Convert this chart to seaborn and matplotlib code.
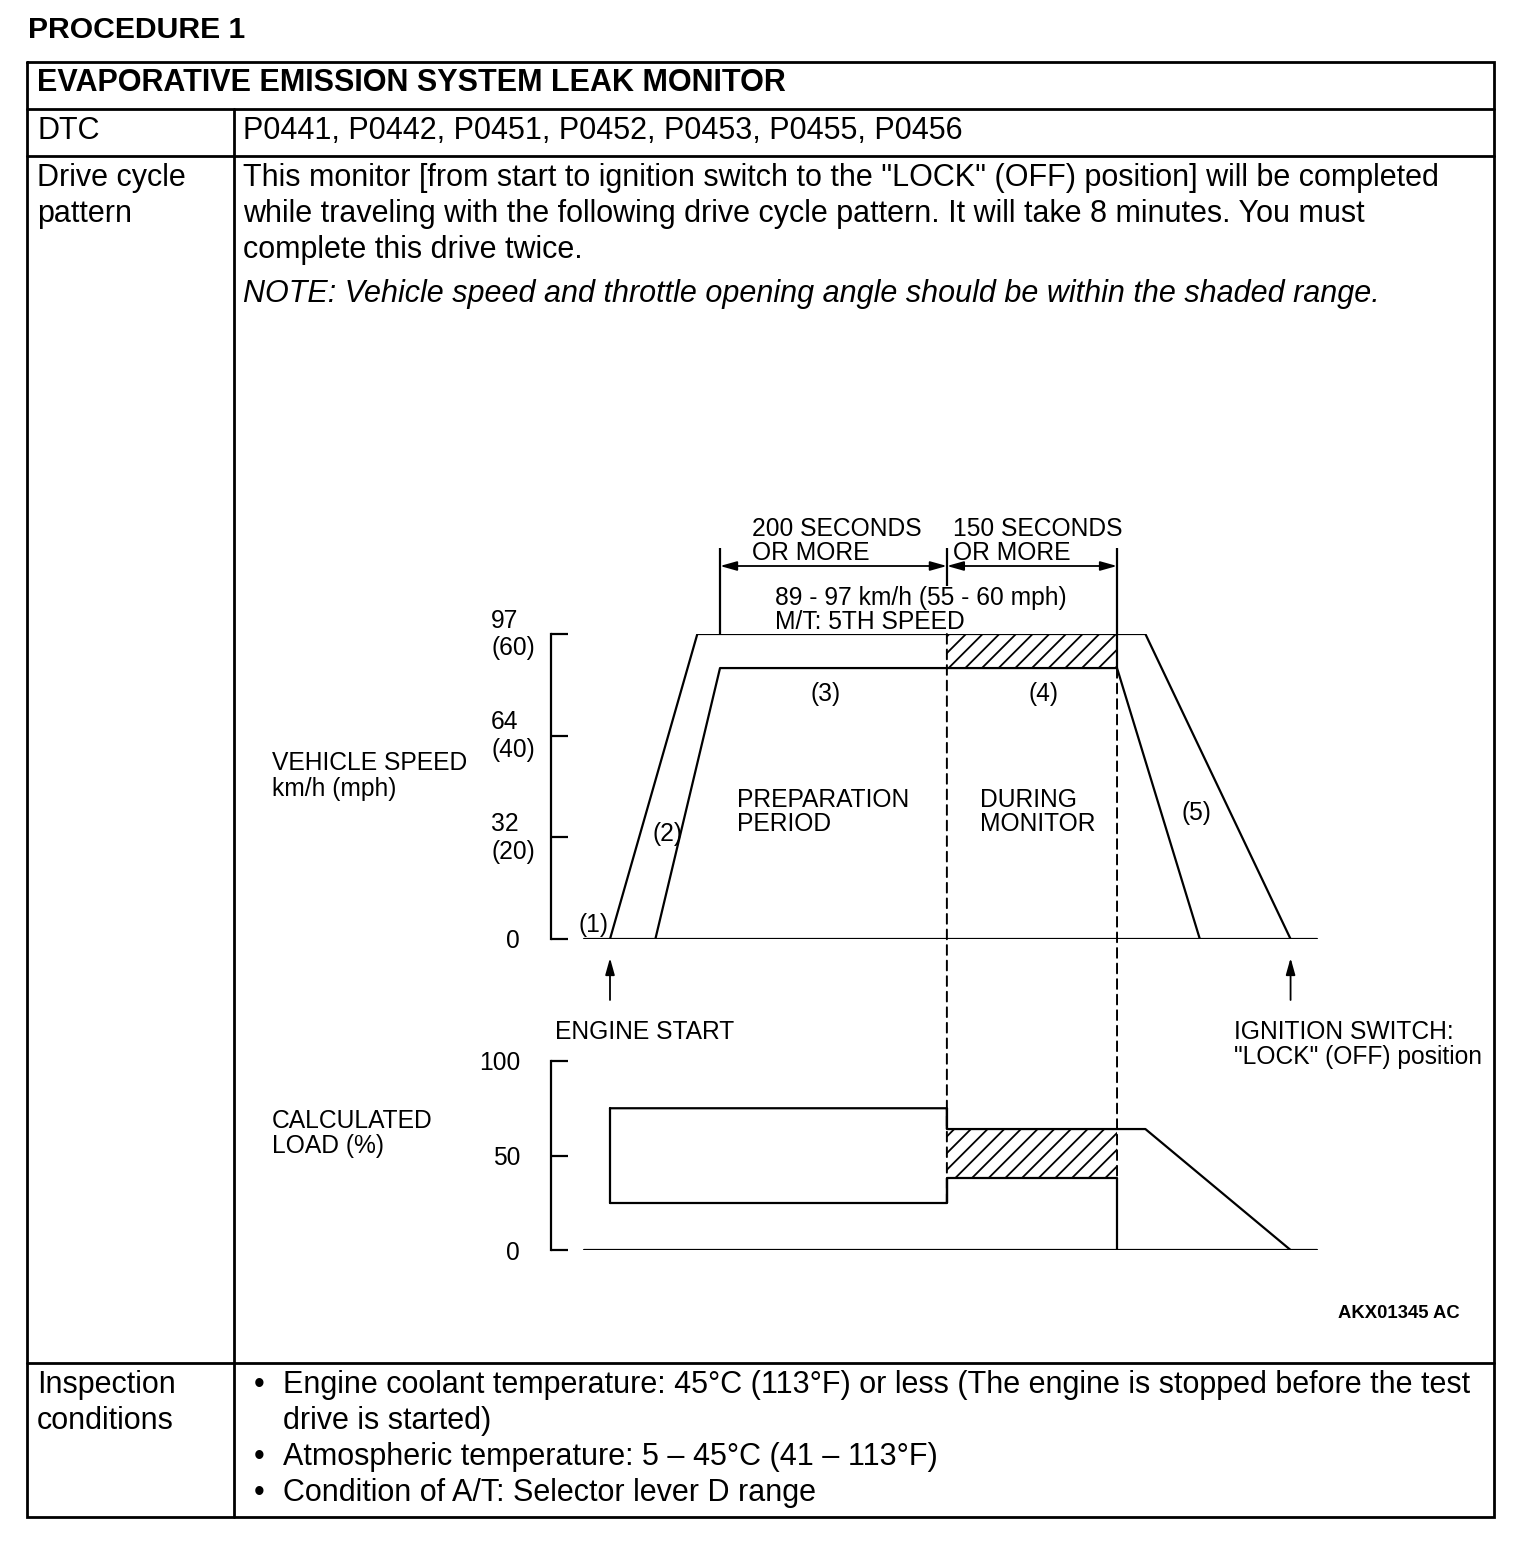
import matplotlib
matplotlib.use('Agg')
import matplotlib.pyplot as plt
import matplotlib.transforms as mtransforms
import seaborn as sns
from matplotlib.patches import ConnectionPatch

# ---- data (time in seconds from engine start) ----
outer_t = [0, 77, 472, 600]
outer_v = [0, 60, 60, 0]            # mph
inner_t = [40, 97, 447, 520]
inner_v = [0, 53.3, 53.3, 0]
baseline_t = [-23, 623]
speed_ticks = [0, 20, 40, 60]
speed_labels = ['0', '32\n(20)', '64\n(40)', '97\n(60)']

prep_start, monitor_start, monitor_end = 97, 297, 447
engine_start, ignition_off = 0, 600
monitor_speed = [53.3, 60]

load_upper_t = [0, 297, 297, 472, 600]
load_upper = [75, 75, 64, 64, 0]
load_lower_t = [0, 297, 297, 447, 447]
load_lower = [25, 25, 38, 38, 0]
load_left_t = [0, 0]
load_left = [25, 75]
load_ticks = [0, 50, 100]
monitor_load = [38, 64]

body_lines = [
    'This monitor [from start to ignition switch to the "LOCK" (OFF) position] will be completed',
    'while traveling with the following drive cycle pattern. It will take 8 minutes. You must',
    'complete this drive twice.',
]
note_line = 'NOTE: Vehicle speed and throttle opening angle should be within the shaded range.'
dtc_codes = 'P0441, P0442, P0451, P0452, P0453, P0455, P0456'
bullets = [
    ('Engine coolant temperature: 45°C (113°F) or less (The engine is stopped before the test', True),
    ('drive is started)', False),
    ('Atmospheric temperature: 5 \u2013 45°C (41 \u2013 113°F)', True),
    ('Condition of A/T: Selector lever D range', True),
]

# ---- figure ----
W, H = 1536, 1550
sns.set_style('white')
plt.rcParams['font.family'] = ['Liberation Sans', 'DejaVu Sans']
plt.rcParams['text.color'] = 'black'
plt.rcParams['ytick.color'] = 'black'
plt.rcParams['xtick.color'] = 'black'
plt.rcParams['axes.labelcolor'] = 'black'
plt.rcParams['hatch.linewidth'] = 1.3
fig = plt.figure(figsize=(W / 100, H / 100), dpi=100)


def px_axes(x0, y0, x1, y1):
    return fig.add_axes([x0 / W, 1 - y1 / H, (x1 - x0) / W, (y1 - y0) / H])


bg = px_axes(0, 0, W, H)
bg.set_xlim(0, W)
bg.set_ylim(H, 0)
bg.axis('off')

BODY = 22.0
DIAG = 17.7


def txt(x, yc, s, size, **kw):
    cap = 0.716 * size * 100 / 72
    bg.text(x, yc + cap / 2, s, fontsize=size, va='baseline', color='black', **kw)


# table frame
lw_t = 2.0
L, R, T, B = 27, 1494, 62, 1517
bg.plot([L, R, R, L, L], [T, T, B, B, T], color='black', lw=lw_t, solid_joinstyle='miter')
for yy in [109, 156, 1363]:
    bg.plot([L, R], [yy, yy], color='black', lw=lw_t)
bg.plot([234, 234], [109, B], color='black', lw=lw_t)

txt(28, 27, 'PROCEDURE 1', 21.7, fontweight='bold')
txt(37, 80, 'EVAPORATIVE EMISSION SYSTEM LEAK MONITOR', BODY, fontweight='bold')
txt(37, 128, 'DTC', BODY)
txt(243, 128, dtc_codes, BODY)
txt(37, 175, 'Drive cycle', BODY)
txt(37, 211, 'pattern', BODY)
for i, line in enumerate(body_lines):
    txt(243, 175 + 36 * i, line, BODY)
txt(243, 291, note_line, BODY, style='italic')
txt(37, 1382, 'Inspection', BODY)
txt(37, 1418, 'conditions', BODY)
for i, (line, dot) in enumerate(bullets):
    if dot:
        txt(259, 1382 + 36 * i, '\u2022', BODY, ha='center')
    txt(283, 1382 + 36 * i, line, BODY)

# diagram labels
txt(752, 527, '200 SECONDS', DIAG)
txt(752, 551, 'OR MORE', DIAG)
txt(953, 527, '150 SECONDS', DIAG)
txt(953, 551, 'OR MORE', DIAG)
txt(775, 596, '89 - 97 km/h (55 - 60 mph)', DIAG)
txt(775, 620, 'M/T: 5TH SPEED', DIAG)
txt(826, 692, '(3)', DIAG, ha='center')
txt(1044, 692, '(4)', DIAG, ha='center')
txt(737, 798, 'PREPARATION', DIAG)
txt(737, 822, 'PERIOD', DIAG)
txt(980, 798, 'DURING', DIAG)
txt(980, 822, 'MONITOR', DIAG)
txt(1196, 811, '(5)', DIAG, ha='center')
txt(667, 832, '(2)', DIAG, ha='center')
txt(594, 923, '(1)', DIAG, ha='center')
txt(272, 761, 'VEHICLE SPEED', DIAG)
txt(272, 787, 'km/h (mph)', DIAG)
txt(555, 1030, 'ENGINE START', DIAG)
txt(1234, 1030, 'IGNITION SWITCH:', DIAG)
txt(1234, 1055, '"LOCK" (OFF) position', DIAG)
txt(272, 1119, 'CALCULATED', DIAG)
txt(272, 1144, 'LOAD (%)', DIAG)
txt(1338, 1311, 'AKX01345 AC', 13.3, fontweight='bold')

# ---- chart axes ----
T0_PX = 610
PX_PER_S = (1117 - 720) / 350
AX_L, AX_R = 551, 1340
xlim = ((AX_L - T0_PX) / PX_PER_S, (AX_R - T0_PX) / PX_PER_S)
PX_PER_MPH = (939 - 634) / 60

ax_s = px_axes(AX_L, 634, AX_R, 939)
ax_l = px_axes(AX_L, 1061, AX_R, 1250)

LW = 1.6
kw = dict(color='black', linewidth=LW, sort=False, estimator=None, legend=False)

# speed chart
sns.lineplot(x=outer_t, y=outer_v, ax=ax_s, **kw)
sns.lineplot(x=inner_t, y=inner_v, ax=ax_s, **kw)
sns.lineplot(x=baseline_t, y=[0, 0], ax=ax_s, **kw)
ax_s.fill_between([monitor_start, monitor_end], monitor_speed[0], monitor_speed[1],
                  facecolor='none', edgecolor='black', hatch='//', linewidth=0)
ax_s.set_ylim(0, 60)
ax_s.set_yticks(speed_ticks)
ax_s.set_yticklabels(speed_labels, ha='center', multialignment='left')
ax_s.tick_params(axis='y', direction='in', length=12, width=LW,
                 pad=(AX_L - 513) * 0.72, labelsize=DIAG, left=True)
lift = mtransforms.ScaledTranslation(0, 4 / 100, fig.dpi_scale_trans)
for lbl in ax_s.get_yticklabels():
    if '\n' in lbl.get_text():
        lbl.set_transform(lbl.get_transform() + lift)

# dimension lines above the speed chart
dim_top = 60 + (634 - 548) / PX_PER_MPH
dim_y = 60 + (634 - 566) / PX_PER_MPH
ax_s.vlines(prep_start, 60, dim_top, color='black', lw=LW, clip_on=False)
ax_s.vlines(monitor_end, monitor_speed[0], dim_top, color='black', lw=LW, clip_on=False)
ax_s.vlines(monitor_start, dim_y - 4, dim_top, color='black', lw=LW, clip_on=False)
arrow = dict(arrowstyle='<|-|>,head_length=0.5,head_width=0.14', color='black',
             lw=1.3, mutation_scale=20, shrinkA=0, shrinkB=0)
for a, b in [(prep_start, monitor_start), (monitor_start, monitor_end)]:
    ax_s.annotate('', xy=(a, dim_y), xytext=(b, dim_y), arrowprops=arrow,
                  annotation_clip=False)

# start / stop arrows under the speed chart
up = dict(arrowstyle='-|>,head_length=0.5,head_width=0.14', color='black',
          lw=1.3, mutation_scale=20, shrinkA=0, shrinkB=0)
for t in [engine_start, ignition_off]:
    ax_s.annotate('', xy=(t, -19 / PX_PER_MPH), xytext=(t, -61 / PX_PER_MPH),
                  arrowprops=up, annotation_clip=False)

# load chart
sns.lineplot(x=load_upper_t, y=load_upper, ax=ax_l, **kw)
sns.lineplot(x=load_lower_t, y=load_lower, ax=ax_l, **kw)
sns.lineplot(x=load_left_t, y=load_left, ax=ax_l, **kw)
sns.lineplot(x=baseline_t, y=[0, 0], ax=ax_l, **kw)
ax_l.fill_between([monitor_start, monitor_end], monitor_load[0], monitor_load[1],
                  facecolor='none', edgecolor='black', hatch='//', linewidth=0)
ax_l.set_ylim(0, 100)
ax_l.set_yticks(load_ticks)
ax_l.set_yticklabels([str(v) for v in load_ticks])
ax_l.tick_params(axis='y', direction='in', length=12, width=LW,
                 pad=(AX_L - 520) * 0.72, labelsize=DIAG, left=True)

for ax in (ax_s, ax_l):
    ax.set_xlim(*xlim)
    ax.set_xticks([])
    ax.set_xlabel('')
    ax.set_ylabel('')
    ax.set_facecolor('none')
    for side in ['top', 'right', 'bottom']:
        ax.spines[side].set_visible(False)
    ax.spines['left'].set_linewidth(LW)
    ax.spines['left'].set_color('black')

# dashed boundaries of the monitoring window, across both charts
dash = (0, (5, 3))
for t, v_top, load_bottom in [(monitor_start, 60, 25), (monitor_end, monitor_speed[0], 38)]:
    con = ConnectionPatch(xyA=(t, v_top), coordsA=ax_s.transData,
                          xyB=(t, load_bottom), coordsB=ax_l.transData,
                          linestyle=dash, lw=1.4, color='black')
    fig.add_artist(con)
# solid steps at the start of the monitoring window
ax_l.vlines(monitor_start, load_upper[2], load_upper[1], color='black', lw=LW)
ax_l.vlines(monitor_start, load_lower[1], load_lower[2], color='black', lw=LW)

fig.savefig('out.png', dpi=100, facecolor='white')
